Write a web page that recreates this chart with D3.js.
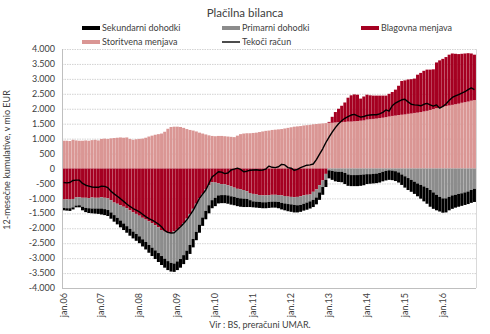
<!DOCTYPE html>
<html><head><meta charset="utf-8">
<script src="https://cdn.jsdelivr.net/npm/d3@7"></script>
<style>body{margin:0;background:#fff;} svg{display:block;font-family:Lato,"Open Sans",sans-serif;}</style>
</head><body><svg id="c" width="490" height="334"></svg>
<script>
// Months Jan 2006 .. Nov 2016 (131 months)
const tickLabels = ["jan.06","jan.07","jan.08","jan.09","jan.10","jan.11","jan.12","jan.13","jan.14","jan.15","jan.16"];
const yTicks = [-4000,-3500,-3000,-2500,-2000,-1500,-1000,-500,0,500,1000,1500,2000,2500,3000,3500,4000];

// Storitvena menjava
const storitvena = [
 930,930,920,960,940,930,930,940,930,950,960,940,
 990,1000,990,1010,1020,1030,1040,1030,1040,990,960,980,
 990,1000,1030,1070,1100,1130,1150,1170,1230,1330,1390,1400,
 1400,1390,1360,1320,1290,1270,1240,1200,1170,1140,1110,1090,
 1080,1090,1090,1080,1070,1060,1050,1100,1150,1170,1180,1180,
 1190,1200,1220,1240,1260,1270,1290,1300,1310,1320,1340,1360,
 1380,1400,1410,1420,1440,1450,1460,1480,1490,1500,1510,1520,
 1530,1530,1540,1550,1550,1560,1570,1570,1580,1590,1600,1610,
 1640,1650,1660,1670,1690,1700,1720,1740,1760,1770,1790,1800,
 1810,1830,1840,1860,1870,1890,1910,1930,1960,1990,2020,2050,
 2070,2090,2110,2130,2150,2170,2200,2220,2240,2270,2290];
// Blagovna menjava
const blagovna = [
 -1040,-1030,-1040,-1020,-970,-960,-980,-980,-990,-970,-980,-980,
 -960,-980,-1000,-1060,-1140,-1180,-1230,-1280,-1330,-1400,-1470,-1520,
 -1580,-1650,-1710,-1770,-1830,-1900,-1970,-2060,-2110,-2150,-2160,-2100,
 -2050,-1950,-1830,-1680,-1520,-1350,-1180,-1000,-850,-700,-560,-460,
 -470,-500,-520,-530,-560,-600,-640,-680,-700,-720,-760,-820,
 -850,-870,-890,-900,-900,-890,-880,-880,-890,-900,-920,-940,
 -950,-960,-950,-930,-900,-880,-870,-780,-700,-560,-400,-180,
 30,200,350,450,550,650,800,880,900,880,740,800,
 830,800,780,770,750,740,720,760,800,870,980,1130,
 1140,1150,1150,1150,1270,1310,1360,1380,1350,1330,1530,1570,
 1600,1640,1700,1720,1690,1660,1640,1630,1620,1580,1520];
// Primarni dohodki
const primarni = [
 -280,-300,-290,-280,-270,-270,-300,-340,-340,-370,-360,-360,
 -380,-380,-390,-410,-420,-470,-510,-560,-600,-620,-640,-670,
 -690,-720,-750,-790,-820,-840,-860,-870,-910,-950,-1000,-1080,
 -1060,-1080,-1070,-1070,-1040,-1010,-940,-880,-790,-720,-670,-600,
 -510,-400,-370,-360,-340,-330,-310,-300,-300,-290,-260,-240,
 -250,-240,-230,-230,-230,-230,-230,-230,-230,-250,-250,-250,
 -250,-260,-280,-290,-280,-260,-230,-270,-270,-240,-220,-200,
 -60,-80,-100,-110,-110,-150,-200,-220,-220,-220,-210,-200,
 -190,-190,-180,-170,-150,-110,-80,-60,-70,-90,-130,-200,
 -260,-320,-380,-440,-500,-550,-600,-650,-720,-800,-880,-950,
 -1000,-1000,-950,-900,-880,-850,-830,-800,-770,-720,-680];
// Sekundarni dohodki
const sekundarni = [
 -80,-80,-90,-70,-60,-70,-120,-140,-160,-160,-170,-180,
 -200,-200,-200,-210,-220,-220,-230,-220,-220,-230,-230,-230,
 -230,-240,-250,-260,-280,-290,-300,-300,-300,-300,-290,-280,
 -290,-290,-300,-310,-300,-280,-280,-270,-280,-280,-270,-270,
 -280,-270,-270,-270,-280,-280,-280,-280,-280,-280,-270,-230,
 -200,-200,-200,-200,-200,-200,-200,-200,-210,-220,-230,-240,
 -250,-250,-240,-230,-230,-240,-240,-240,-230,-250,-260,-240,
 -270,-300,-330,-340,-350,-370,-380,-370,-370,-370,-370,-360,
 -330,-320,-320,-320,-320,-320,-320,-320,-320,-330,-340,-350,
 -380,-400,-400,-410,-430,-460,-500,-530,-560,-550,-520,-490,
 -480,-470,-450,-450,-430,-430,-420,-420,-420,-430,-440];
// Tekoči račun
const tekoci = [
 -470,-480,-470,-400,-390,-390,-500,-560,-590,-620,-630,-630,
 -590,-600,-640,-760,-850,-930,-1010,-1100,-1190,-1270,-1340,-1390,
 -1450,-1530,-1610,-1680,-1730,-1790,-1860,-1950,-2080,-2140,-2160,-2150,
 -2050,-1950,-1840,-1720,-1560,-1400,-1200,-1000,-860,-720,-500,-280,
 -200,-110,-120,-170,-150,-50,-20,10,-30,-110,-90,-60,
 -50,-40,-60,-50,-20,80,40,30,60,140,120,30,
 10,-60,-30,30,70,110,120,150,300,480,660,870,
 1050,1220,1370,1500,1600,1680,1740,1790,1810,1760,1720,1740,
 1780,1790,1800,1800,1830,1880,1960,1920,2100,2190,2250,2300,
 2320,2230,2150,2130,2120,2100,2150,2180,2130,2090,2130,2020,
 2080,2160,2280,2380,2430,2470,2520,2570,2640,2700,2640];

const months = d3.range(storitvena.length);
const table = months.map(i => ({i, stor:storitvena[i], blag:blagovna[i], prim:primarni[i], sek:sekundarni[i]}));

const svg = d3.select("#c");
const L = 62, R = 476, T = 49, B = 288;
const x = d3.scaleBand().domain(months).range([L, R]).paddingInner(0.05).paddingOuter(0.02);
const y = d3.scaleLinear().domain([-4000, 4000]).range([B, T]);
const loc = d3.formatLocale({decimal:",", thousands:".", grouping:[3], currency:["",""], minus:"-"});
const fmt = loc.format(",d");

// grid
svg.append("g").selectAll("line").data(yTicks).join("line")
  .attr("x1", L).attr("x2", R).attr("y1", d => y(d)+0.5).attr("y2", d => y(d)+0.5)
  .attr("stroke", "#c8c8c8").attr("stroke-width", 0.8).attr("stroke-dasharray", "1.5,1");

// stacked bars
const stack = d3.stack().keys(["stor","blag","prim","sek"]).offset(d3.stackOffsetDiverging);
const stacked = stack(table);
const colorOf = {stor:"#da9694", blag:"#a50021", prim:"#8c8c8c", sek:"#000000"};
svg.append("g").selectAll("g").data(stacked).join("g").attr("fill", s => colorOf[s.key])
  .selectAll("rect").data(s => s).join("rect")
  .attr("x", d => x(d.data.i)).attr("width", x.bandwidth())
  .attr("y", d => y(Math.max(d[0], d[1])))
  .attr("height", d => Math.abs(y(d[0]) - y(d[1])));

// line
svg.append("path").datum(tekoci)
  .attr("fill","none").attr("stroke","#000").attr("stroke-width",1.4).attr("stroke-linejoin","round")
  .attr("d", d3.line().x((d,i) => x(i) + x.bandwidth()/2).y(d => y(d)));

// axes frame
svg.append("line").attr("x1",L+0.5).attr("x2",L+0.5).attr("y1",T).attr("y2",B).attr("stroke","#bfbfbf");
svg.append("line").attr("x1",R+0.5).attr("x2",R+0.5).attr("y1",T).attr("y2",B).attr("stroke","#d9d9d9");
svg.append("line").attr("x1",L).attr("x2",R).attr("y1",B+0.5).attr("y2",B+0.5).attr("stroke","#bfbfbf");

// y labels
svg.append("g").selectAll("text").data(yTicks).join("text")
  .attr("x", 55).attr("y", d => y(d)).attr("dy","0.35em").attr("text-anchor","end")
  .attr("font-size", 9).attr("fill","#404040").text(d => fmt(d));

// x labels
svg.append("g").selectAll("text").data(tickLabels).join("text")
  .attr("transform", (d,k) => `translate(${x(k*12) + x.bandwidth()/2 + 3},293) rotate(-90)`)
  .attr("text-anchor","end").attr("font-size", 9).attr("fill","#404040").text(d => d);

// y title
svg.append("text").attr("transform","translate(10,160) rotate(-90)").attr("text-anchor","middle")
  .attr("font-size",9).attr("fill","#404040").text("12-mesečne kumulative, v mio EUR");

// title
svg.append("text").attr("x",245).attr("y",17).attr("text-anchor","middle")
  .attr("font-size",11.5).attr("fill","#404040").text("Plačilna bilanca");

// legend
const legend = [
  {name:"Sekundarni dohodki", color:"#000000", type:"bar", lx:82, ly:28},
  {name:"Primarni dohodki", color:"#8c8c8c", type:"bar", lx:222, ly:28},
  {name:"Blagovna menjava", color:"#a50021", type:"bar", lx:361, ly:28},
  {name:"Storitvena menjava", color:"#da9694", type:"bar", lx:82, ly:42},
  {name:"Tekoči račun", color:"#000000", type:"line", lx:222, ly:42}
];
const lg = svg.append("g").selectAll("g").data(legend).join("g").attr("transform", d => `translate(${d.lx},${d.ly})`);
lg.filter(d => d.type === "bar").append("rect").attr("x",0).attr("y",-2).attr("width",18).attr("height",4).attr("fill", d => d.color);
lg.filter(d => d.type === "line").append("line").attr("x1",0).attr("x2",18).attr("y1",0).attr("y2",0).attr("stroke","#000").attr("stroke-width",1.4);
lg.append("text").attr("x",20).attr("y",0).attr("dy","0.35em").attr("font-size",9).attr("fill","#404040").text(d => d.name);

// source
svg.append("text").attr("x",260).attr("y",328).attr("text-anchor","middle").attr("font-size",9).attr("fill","#404040").text("Vir : BS, preračuni UMAR.");
</script></body></html>
